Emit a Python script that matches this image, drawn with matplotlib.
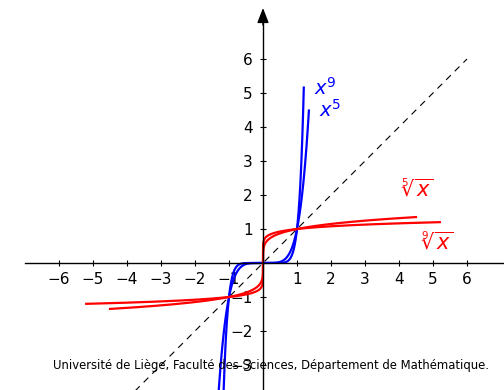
import numpy as np
import matplotlib
matplotlib.use("Agg")
import matplotlib.pyplot as plt

# === Data ===
powers = [9, 5]                       # blue curves y = x^n
power_ranges = [(-1.2, 1.2), (-1.35, 1.35)]
roots = [5, 9]                        # red curves y = x^(1/n)
root_ranges = [(-4.5, 4.5), (-5.2, 5.2)]
diag_range = (-4.0, 6.0)              # dashed y = x
xticks = [-6, -5, -4, -3, -2, -1, 1, 2, 3, 4, 5, 6]
yticks = [-3, -2, -1, 1, 2, 3, 4, 5, 6]
footer = "Université de Liège, Faculté des Sciences, Département de Mathématique."

plt.rcParams['mathtext.fontset'] = 'dejavusans'

fig = plt.figure(figsize=(5.04, 3.9), dpi=100)
ax = fig.add_axes([0, 0, 1, 1])
unit = 34.0
ax.set_xlim(-263 / unit, 241 / unit)
ax.set_ylim(-127 / unit, 263 / unit)

# === Axes through origin ===
for s in ['top', 'right']:
    ax.spines[s].set_visible(False)
ax.spines['left'].set_position(('data', 0))
ax.spines['bottom'].set_position(('data', 0))
ax.spines['bottom'].set_bounds(-7.0, 7.5)
ax.spines['left'].set_bounds(-4.0, 7.1)
ax.spines['left'].set_linewidth(1.0)
ax.spines['bottom'].set_linewidth(1.0)
ax.set_xticks(xticks)
ax.set_yticks(yticks)
ax.set_xticklabels([str(t).replace('-', '\u2212') for t in xticks])
ax.set_yticklabels([str(t).replace('-', '\u2212') for t in yticks])
ax.tick_params(direction='inout', length=5, width=0.8, labelsize=11, pad=5)
ax.tick_params(axis='x', pad=4)

# arrow heads
ax.annotate('', xy=(0, 7.5), xytext=(0, 7.0),
            arrowprops=dict(arrowstyle='-|>,head_length=0.9,head_width=0.35',
                            color='black', lw=1.0, shrinkA=0, shrinkB=0))
ax.annotate('', xy=(7.4, 0), xytext=(7.0, 0),
            arrowprops=dict(arrowstyle='-|>,head_length=0.9,head_width=0.35',
                            color='black', lw=1.0, shrinkA=0, shrinkB=0))

# === Curves ===
lo, hi = diag_range
ax.plot([lo, hi], [lo, hi], color='black', lw=0.8, ls=(0, (6, 5)))

for n, (a, b) in zip(powers, power_ranges):
    x = np.linspace(a, b, 600)
    ax.plot(x, x ** n, color='blue', lw=1.6)

for n, (a, b) in zip(roots, root_ranges):
    x = np.linspace(a, b, 2000)
    ax.plot(x, np.sign(x) * np.abs(x) ** (1.0 / n), color='red', lw=1.6)

# === Labels ===
ax.text(1.5, 5.15, r'$x^9$', color='blue', fontsize=14, ha='left', va='center')
ax.text(1.65, 4.5, r'$x^5$', color='blue', fontsize=14, ha='left', va='center')
ax.text(4.05, 2.15, r'$\sqrt[5]{x}$', color='red', fontsize=15, ha='left', va='center')
ax.text(4.65, 0.6, r'$\sqrt[9]{x}$', color='red', fontsize=15, ha='left', va='center')

fig.text(271 / 504, 1 - 366 / 390, footer, ha='center', va='center', fontsize=8.4)

fig.savefig('out.png', dpi=100)
